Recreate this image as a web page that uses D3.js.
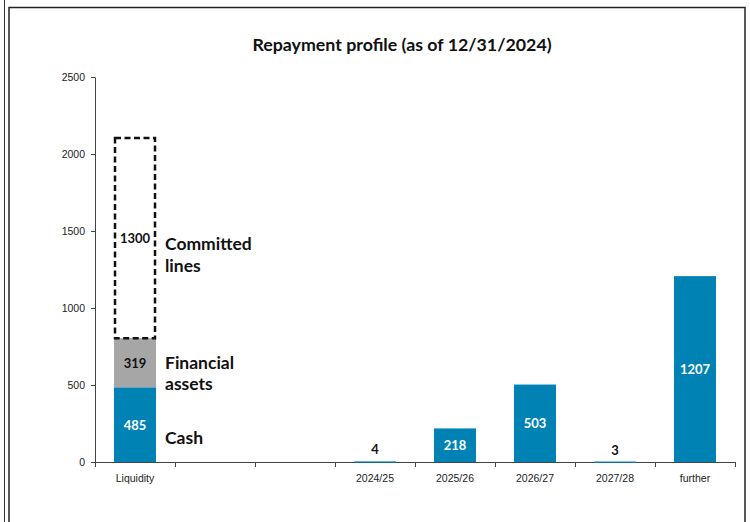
<!DOCTYPE html>
<html>
<head>
<meta charset="utf-8">
<script src="https://cdn.jsdelivr.net/npm/d3@7"></script>
<style>
  html, body { margin: 0; padding: 0; background: #fff; }
  svg { display: block; }
</style>
</head>
<body>
<svg id="chart" width="750" height="522"></svg>
<script>
// ---- data ----
const categories = ["Liquidity", "", "", "2024/25", "2025/26", "2026/27", "2027/28", "further"];
const repayment = [null, null, null, 4, 218, 503, 3, 1207];
const liquidityParts = ["Cash", "Financial assets", "Committed lines"];
const liquidityValues = [485, 319, 1300];
const liquidityLabels = [["Cash"], ["Financial", "assets"], ["Committed", "lines"]];
const yTicks = [0, 500, 1000, 1500, 2000, 2500];
const title = "Repayment profile (as of 12/31/2024)";

// ---- setup ----
const svg = d3.select("#chart");
const blue = "#0083b4";
const grey = "#a6a6a6";
const boldFont = "Lato, 'Open Sans', sans-serif";
const axisFont = "'Liberation Sans', Arial, sans-serif";

// frames
svg.append("line").attr("x1", 4.5).attr("x2", 4.5).attr("y1", 0).attr("y2", 522)
  .attr("stroke", "#333").attr("stroke-width", 1);
svg.append("rect").attr("x", 9).attr("y", 7.5).attr("width", 736).attr("height", 530)
  .attr("fill", "none").attr("stroke", "#222").attr("stroke-width", 1.5);

const x = d3.scaleBand().domain(d3.range(categories.length)).range([95, 735]).padding(0);
const y = d3.scaleLinear().domain([0, 2500]).range([462, 77]);
const barW = x.bandwidth() * 0.525;
const bx = i => x(i) + (x.bandwidth() - barW) / 2;

// title
svg.append("text").attr("x", 402).attr("y", 51).attr("text-anchor", "middle")
  .attr("font-family", boldFont).attr("font-weight", 700).attr("font-size", 17.8)
  .attr("fill", "#111").text(title);

// y axis
const yAxis = d3.axisLeft(y).tickValues(yTicks).tickFormat(d3.format("d"))
  .tickSize(4).tickSizeOuter(0).tickPadding(6);
const gy = svg.append("g").attr("transform", "translate(95,0)").call(yAxis);
gy.select(".domain").attr("stroke", "#444");
gy.selectAll(".tick line").attr("stroke", "#444");
gy.selectAll(".tick text").attr("font-family", axisFont).attr("font-size", 10.5).attr("fill", "#222");

// x axis
const gx = svg.append("g").attr("transform", "translate(0,462)");
gx.append("line").attr("x1", 95).attr("x2", 735).attr("y1", 0.5).attr("y2", 0.5).attr("stroke", "#444");
gx.selectAll(".xt").data(d3.range(categories.length + 1)).join("line")
  .attr("x1", i => (i < categories.length ? x(i) : 735) + 0.5)
  .attr("x2", i => (i < categories.length ? x(i) : 735) + 0.5)
  .attr("y1", 0).attr("y2", 5).attr("stroke", "#444");
gx.selectAll(".xl").data(categories).join("text")
  .attr("x", (d, i) => x(i) + x.bandwidth() / 2).attr("y", 20)
  .attr("text-anchor", "middle").attr("font-family", axisFont).attr("font-size", 10.5)
  .attr("fill", "#222").text(d => d);

// liquidity stack
let cum = 0;
const stack = liquidityValues.map((v, i) => { const s = { v, i, y0: cum, y1: cum + v }; cum += v; return s; });
const labelOffsets = [[19], [6.5, 27.5], [12, 34]];
stack.forEach(s => {
  if (s.i < 2) {
    svg.append("rect").attr("x", bx(0)).attr("width", barW)
      .attr("y", y(s.y1)).attr("height", y(s.y0) - y(s.y1))
      .attr("fill", s.i === 0 ? blue : grey);
  } else {
    svg.append("rect").attr("x", bx(0) + 1).attr("width", barW - 2)
      .attr("y", y(s.y1)).attr("height", y(s.y0) - y(s.y1))
      .attr("fill", "none").attr("stroke", "#111").attr("stroke-width", 2.5)
      .attr("stroke-dasharray", "6,3.5");
  }
  const mid = (y(s.y0) + y(s.y1)) / 2;
  svg.append("text").attr("x", bx(0) + barW / 2).attr("y", mid + 5)
    .attr("text-anchor", "middle").attr("font-family", boldFont).attr("font-weight", 700)
    .attr("font-size", 13).attr("fill", s.i === 0 ? "#fff" : "#111").text(s.v);
  liquidityLabels[s.i].forEach((t, k) => {
    svg.append("text").attr("x", bx(0) + barW + 9).attr("y", mid + labelOffsets[s.i][k])
      .attr("font-family", boldFont).attr("font-weight", 700).attr("font-size", 17.5)
      .attr("fill", "#111").text(t);
  });
});

// repayment bars
const rep = repayment.map((v, i) => ({ v, i })).filter(d => d.v !== null);
svg.selectAll(".rb").data(rep).join("rect")
  .attr("x", d => bx(d.i)).attr("width", barW)
  .attr("y", d => y(d.v)).attr("height", d => Math.max(1.2, y(0) - y(d.v)))
  .attr("fill", blue);
svg.selectAll(".rl").data(rep).join("text")
  .attr("x", d => bx(d.i) + barW / 2)
  .attr("y", d => (y(0) - y(d.v) > 30) ? (y(0) + y(d.v)) / 2 + 5 : y(d.v) - 7)
  .attr("text-anchor", "middle").attr("font-family", boldFont).attr("font-weight", 700)
  .attr("font-size", 13)
  .attr("fill", d => (y(0) - y(d.v) > 30) ? "#fff" : "#111").text(d => d.v);
</script>
</body>
</html>
